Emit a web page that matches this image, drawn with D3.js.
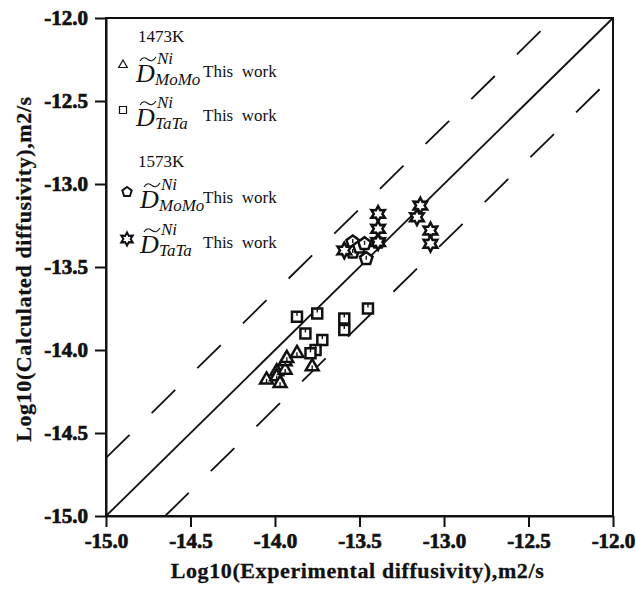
<!DOCTYPE html>
<html>
<head>
<meta charset="utf-8">
<script src="https://cdn.jsdelivr.net/npm/d3@7"></script>
<style>
  body { margin: 0; background: #fff; }
  text { font-family: "Liberation Serif", "Times New Roman", serif; }
  .tick text { font-weight: 700; }
</style>
</head>
<body>
<svg></svg>
<script>
// 1473K MoMo (triangles)
var mo1473 = [[-14.05,-14.18],[-13.99,-14.13],[-13.99,-14.16],[-13.97,-14.20],[-13.94,-14.12],
              [-13.94,-14.07],[-13.93,-14.05],[-13.87,-14.02],[-13.78,-14.10]];
// 1473K TaTa (squares)
var ta1473 = [[-13.87,-13.80],[-13.75,-13.78],[-13.82,-13.90],[-13.72,-13.94],[-13.76,-14.00],
              [-13.79,-14.02],[-13.59,-13.81],[-13.59,-13.88],[-13.45,-13.75]];
// 1573K MoMo (pentagons)
var mo1573 = [[-13.54,-13.35],[-13.54,-13.41],[-13.50,-13.38],[-13.47,-13.36],[-13.46,-13.45],[-13.39,-13.35]];
// 1573K TaTa (stars)
var ta1573 = [[-13.59,-13.40],[-13.39,-13.18],[-13.39,-13.27],[-13.39,-13.35],[-13.14,-13.13],
              [-13.16,-13.20],[-13.08,-13.28],[-13.08,-13.36]];

var xTicks = [-15.0, -14.5, -14.0, -13.5, -13.0, -12.5, -12.0];
var yTicks = [-15.0, -14.5, -14.0, -13.5, -13.0, -12.5, -12.0];
var band = 0.35;   // dashed lines offset

var margin = {top: 18, right: 23, bottom: 78, left: 106};
var width = 636 - margin.left - margin.right;
var height = 594 - margin.top - margin.bottom;

var svg = d3.select("svg")
    .attr("width", 636)
    .attr("height", 594);

var g = svg.append("g")
    .attr("transform", "translate(" + margin.left + "," + margin.top + ")");

var x = d3.scaleLinear().domain([-15, -12]).range([0, width]);
var y = d3.scaleLinear().domain([-15, -12]).range([height, 0]);

// marker shapes
function poly(pts) { return d3.line()(pts) + "Z"; }
function ngon(n, r, rot) {
  return d3.range(n).map(function(i) {
    var a = rot + i * 2 * Math.PI / n;
    return [r * Math.sin(a), -r * Math.cos(a)];
  });
}
function star6(r) {
  return d3.range(12).map(function(i) {
    var a = i * Math.PI / 6, rr = i % 2 ? r * 0.55 : r;
    return [rr * Math.sin(a), -rr * Math.cos(a)];
  });
}
var shapes = {
  tri: function(s) { return poly(ngon(3, s * 0.62, 0)); },
  sq: function(s) { return poly([[-s/2,-s/2],[s/2,-s/2],[s/2,s/2],[-s/2,s/2]]); },
  pent: function(s) { return poly(ngon(5, s * 0.55, 0)); },
  star: function(s) { return poly(star6(s * 0.6)); }
};

// reference lines
var line = d3.line().x(function(d) { return x(d[0]); }).y(function(d) { return y(d[1]); });
g.append("path")
    .attr("d", line([[-15, -15], [-12, -12]]))
    .attr("stroke", "#111").attr("stroke-width", 1.8).attr("fill", "none");
g.append("path")
    .attr("d", line([[-15, -15 + band], [-12 - band, -12]]))
    .attr("stroke", "#111").attr("stroke-width", 1.8).attr("fill", "none")
    .attr("stroke-dasharray", "33,31");
g.append("path")
    .attr("d", line([[-15 + band, -15], [-12, -12 - band]]))
    .attr("stroke", "#111").attr("stroke-width", 1.8).attr("fill", "none")
    .attr("stroke-dasharray", "33,31");

// points
function drawSeries(data, shape, size, tick) {
  var pts = g.append("g").selectAll("g")
      .data(data)
      .enter().append("g")
      .attr("transform", function(d) { return "translate(" + x(d[0]) + "," + y(d[1]) + ")"; });
  pts.append("path")
      .attr("d", shapes[shape](size))
      .attr("fill", "#fff")
      .attr("stroke", "#111")
      .attr("stroke-width", 2.5)
      .attr("stroke-linejoin", "miter");
  if (tick) {
    pts.append("line")
        .attr("x1", 0).attr("x2", 0)
        .attr("y1", tick[0]).attr("y2", tick[1])
        .attr("stroke", "#111").attr("stroke-width", 1.4);
  }
}
drawSeries(mo1473, "tri", 12, [-1, 3]);
drawSeries(ta1473, "sq", 10, [-5, -1]);
drawSeries(mo1573, "pent", 12, [-3, 1]);
drawSeries(ta1573, "star", 13, null);

// axes
var xAxis = d3.axisBottom(x).tickValues(xTicks).tickSize(11).tickSizeOuter(0).tickPadding(6)
    .tickFormat(function(d) { return d.toFixed(1); });
var yAxis = d3.axisLeft(y).tickValues(yTicks).tickSize(11).tickSizeOuter(0).tickPadding(7)
    .tickFormat(function(d) { return d.toFixed(1); });

var xg = g.append("g").attr("transform", "translate(0," + height + ")").call(xAxis);
var yg = g.append("g").call(yAxis);
[xg, yg].forEach(function(a) {
  a.attr("font-family", "'Liberation Serif', serif")
   .attr("font-size", 21)
   .attr("font-weight", "bold");
  a.selectAll("path, line").attr("stroke", "#111").attr("stroke-width", 2);
  a.selectAll("text")
      .attr("fill", "#111")
      .attr("stroke", "#111")
      .attr("stroke-width", 0.7);
});

// frame top/right
g.append("rect")
    .attr("width", width).attr("height", height)
    .attr("fill", "none").attr("stroke", "#111").attr("stroke-width", 2);

// axis titles
svg.append("text")
    .attr("x", margin.left + width / 2 - 2)
    .attr("y", 578)
    .attr("text-anchor", "middle")
    .style("font-weight", "bold").style("font-size", "22px").style("letter-spacing", "0.6px")
    .attr("fill", "#111").attr("stroke", "#111").attr("stroke-width", 0.3)
    .text("Log10(Experimental diffusivity),m2/s");

svg.append("text")
    .attr("transform", "translate(31," + (margin.top + height / 2 + 2) + ") rotate(-90)")
    .attr("text-anchor", "middle")
    .style("font-weight", "bold").style("font-size", "22px").style("letter-spacing", "0.6px")
    .attr("fill", "#111").attr("stroke", "#111").attr("stroke-width", 0.3)
    .text("Log10(Calculated diffusivity),m2/s");

// legend
var legend = svg.append("g");
function label(xp, yp, txt) {
  legend.append("text").attr("x", xp).attr("y", yp)
      .style("font-size", "17px").attr("fill", "#111").text(txt);
}
label(138, 42, "1473K");
label(138, 167, "1573K");

function legendRow(shape, size, mx, my, dx, base, sub) {
  legend.append("path")
      .attr("transform", "translate(" + mx + "," + my + ")")
      .attr("d", shapes[shape](size))
      .attr("fill", "#fff").attr("stroke", "#111").attr("stroke-width", shape == "tri" || shape == "sq" ? 1.2 : 2);
  var db = base + 5;
  legend.append("text").attr("x", dx).attr("y", db)
      .style("font-size", "26px").style("font-style", "italic").attr("fill", "#111").text("D");
  var p = d3.path();
  p.moveTo(dx + 4, db - 21);
  p.bezierCurveTo(dx + 7, db - 26, dx + 10, db - 24, dx + 12, db - 22.5);
  p.bezierCurveTo(dx + 14, db - 21, dx + 17, db - 20, dx + 20, db - 25);
  legend.append("path").attr("d", p.toString())
      .attr("fill", "none").attr("stroke", "#111").attr("stroke-width", 1.1);
  legend.append("text").attr("x", dx + 21).attr("y", base - 13)
      .style("font-size", "17px").style("font-style", "italic").attr("fill", "#111").text("Ni");
  legend.append("text").attr("x", dx + 19).attr("y", base + 8)
      .style("font-size", "17px").style("font-style", "italic").attr("fill", "#111").text(sub);
  legend.append("text").attr("x", 203).attr("y", base)
      .style("font-size", "17px").style("white-space", "pre").attr("fill", "#111").text("This  work");
}
legendRow("tri", 8, 123, 65, 136, 77, "MoMo");
legendRow("sq", 7, 123, 110, 136, 121, "TaTa");
legendRow("pent", 9, 127, 192, 140, 203, "MoMo");
legendRow("star", 11, 127, 239, 140, 248, "TaTa");
</script>
</body>
</html>
